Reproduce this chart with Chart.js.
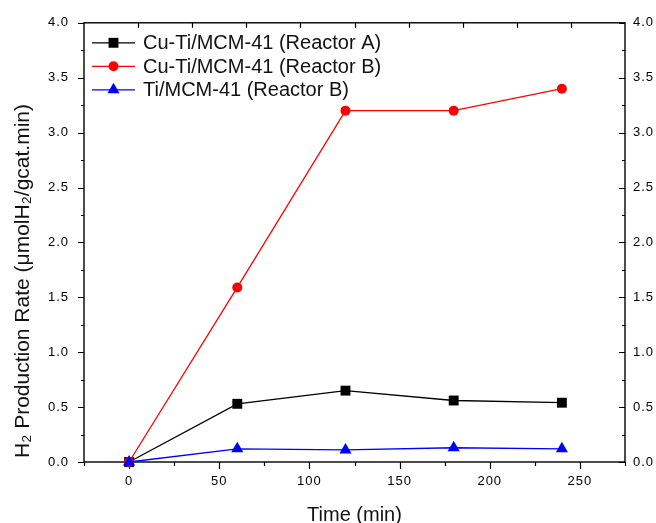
<!DOCTYPE html>
<html>
<head>
<meta charset="utf-8">
<script src="https://cdn.jsdelivr.net/npm/chart.js@4/dist/chart.umd.min.js"></script>
<style>
  html, body { margin: 0; padding: 0; background: #fff; }
  #wrap { width: 656px; height: 523px; }
</style>
</head>
<body>
<div id="wrap"><canvas id="chart1" width="656" height="523"></canvas></div>
<script>
const times = [0, 60, 120, 180, 240];
const cuTiReactorA = [0, 0.53, 0.65, 0.56, 0.54];
const cuTiReactorB = [0, 1.59, 3.2, 3.2, 3.4];
const tiReactorB = [0, 0.12, 0.11, 0.13, 0.12];
const seriesNames = ['Cu-Ti/MCM-41 (Reactor A)', 'Cu-Ti/MCM-41 (Reactor B)', 'Ti/MCM-41 (Reactor B)'];
const xTickValues = [0, 50, 100, 150, 200, 250];
const yTickValues = [0, 0.5, 1, 1.5, 2, 2.5, 3, 3.5, 4];
const xTitle = 'Time (min)';
const yTitle = 'H₂ Production Rate (μmolH₂/gcat.min)';

const FONT = '"Liberation Sans", Arial, sans-serif';

function pts(vals) {
  return times.map((t, i) => ({x: t, y: vals[i]}));
}

// same geometry as chart.js point styles
function drawMarker(ctx, style, r, x, y) {
  ctx.beginPath();
  if (style === 'circle') {
    ctx.arc(x, y, r, 0, Math.PI * 2);
  } else if (style === 'rect') {
    const s = r * Math.SQRT2;
    ctx.rect(x - s / 2, y - s / 2, s, s);
  } else if (style === 'triangle') {
    let rad = 0;
    ctx.moveTo(x + Math.sin(rad) * r, y - Math.cos(rad) * r);
    rad += Math.PI * 2 / 3;
    ctx.lineTo(x + Math.sin(rad) * r, y - Math.cos(rad) * r);
    rad += Math.PI * 2 / 3;
    ctx.lineTo(x + Math.sin(rad) * r, y - Math.cos(rad) * r);
    ctx.closePath();
  }
  ctx.fill();
}

const framePlugin = {
  id: 'frame',
  beforeDraw(chart) {
    chart.ctx.letterSpacing = '1px';
  },
  beforeDatasetsDraw(chart) {
    const {ctx, chartArea: a, scales} = chart;
    ctx.save();
    ctx.strokeStyle = '#000';
    ctx.lineWidth = 1.4;
    ctx.strokeRect(a.left, a.top, a.right - a.left, a.bottom - a.top);
    ctx.lineWidth = 1.2;
    ctx.beginPath();
    // bottom, outward
    for (let v = scales.x.min; v <= scales.x.max; v += 25) {
      const px = Math.round(scales.x.getPixelForValue(v)) + 0.5;
      const len = v % 50 === 0 ? 7 : 4;
      ctx.moveTo(px, a.bottom);
      ctx.lineTo(px, a.bottom + len);
    }
    // left outward, right inward
    for (let v = 0; v <= 4; v += 0.25) {
      const py = Math.round(scales.y.getPixelForValue(v)) + 0.5;
      const len = (v * 2) % 1 === 0 ? 6 : 3;
      ctx.moveTo(a.left, py);
      ctx.lineTo(a.left - len, py);
      ctx.moveTo(a.right, py);
      ctx.lineTo(a.right - len, py);
    }
    // top, inward
    for (let i = 1; i < 10; i++) {
      const px = Math.round(a.left + i * (a.right - a.left) / 10) + 0.5;
      ctx.moveTo(px, a.top);
      ctx.lineTo(px, a.top + 5);
    }
    ctx.stroke();
    ctx.restore();
  },
  afterDraw(chart) {
    const {ctx, chartArea: a} = chart;
    ctx.save();
    ctx.letterSpacing = '0px';
    ctx.fillStyle = '#111';
    ctx.font = '20px ' + FONT;
    ctx.textBaseline = 'middle';

    // legend
    chart.data.datasets.forEach((ds, i) => {
      const y = a.top + 20 + i * 23.5;
      const x0 = a.left + 8, x1 = a.left + 51;
      ctx.strokeStyle = ds.borderColor;
      ctx.lineWidth = ds.borderWidth;
      ctx.beginPath();
      ctx.moveTo(x0, y);
      ctx.lineTo(x1, y);
      ctx.stroke();
      ctx.fillStyle = ds.backgroundColor;
      drawMarker(ctx, ds.pointStyle, ds.pointRadius, (x0 + x1) / 2, y);
      ctx.fillStyle = '#111';
      ctx.textAlign = 'left';
      ctx.fillText(ds.label, a.left + 59, y + 1);
    });

    // axis titles
    ctx.textAlign = 'center';
    ctx.fillText(xTitle, (a.left + a.right) / 2, 515);
    ctx.font = '21px ' + FONT;
    ctx.translate(23, 281);
    ctx.rotate(-Math.PI / 2);
    ctx.fillText(yTitle, 0, 0);
    ctx.restore();
  }
};

const tickFont = {family: FONT, size: 13};

new Chart(document.getElementById('chart1'), {
  type: 'line',
  data: {
    datasets: [{
      label: seriesNames[0],
      data: pts(cuTiReactorA),
      borderColor: '#000000',
      backgroundColor: '#000000',
      borderWidth: 1.3,
      pointStyle: 'rect',
      pointRadius: 7,
      pointBorderWidth: 0,
      clip: false,
      order: 3
    }, {
      label: seriesNames[1],
      data: pts(cuTiReactorB),
      borderColor: '#ff0000',
      backgroundColor: '#ff0000',
      borderWidth: 1.3,
      pointStyle: 'circle',
      pointRadius: 5,
      pointBorderWidth: 0,
      clip: false,
      order: 2
    }, {
      label: seriesNames[2],
      data: pts(tiReactorB),
      borderColor: '#0000ff',
      backgroundColor: '#0000ff',
      borderWidth: 1.3,
      pointStyle: 'triangle',
      pointRadius: 7,
      pointBorderWidth: 0,
      clip: false,
      order: 1
    }]
  },
  options: {
    responsive: false,
    animation: false,
    layout: {padding: {top: 22, left: 0, right: 0, bottom: 0}},
    plugins: {
      legend: {display: false},
      tooltip: {enabled: false}
    },
    scales: {
      x: {
        type: 'linear',
        position: 'bottom',
        min: -25,
        max: 275,
        afterBuildTicks: (s) => { s.ticks = xTickValues.map(v => ({value: v})); },
        afterFit: (s) => { s.height = 61; },
        grid: {display: false, drawTicks: false},
        border: {display: false},
        ticks: {font: tickFont, color: '#000', padding: 12, maxRotation: 0, callback: (v) => String(v)}
      },
      y: {
        type: 'linear',
        position: 'left',
        min: 0,
        max: 4,
        afterBuildTicks: (s) => { s.ticks = yTickValues.map(v => ({value: v})); },
        afterFit: (s) => { s.width = 84; },
        grid: {display: false, drawTicks: false},
        border: {display: false},
        ticks: {font: tickFont, color: '#000', padding: 15, callback: (v) => v.toFixed(1)}
      },
      y2: {
        type: 'linear',
        position: 'right',
        min: 0,
        max: 4,
        afterBuildTicks: (s) => { s.ticks = yTickValues.map(v => ({value: v})); },
        afterFit: (s) => { s.width = 31; },
        grid: {display: false, drawTicks: false},
        border: {display: false},
        ticks: {font: tickFont, color: '#000', padding: 8, callback: (v) => v.toFixed(1)}
      }
    }
  },
  plugins: [framePlugin]
});
</script>
</body>
</html>
